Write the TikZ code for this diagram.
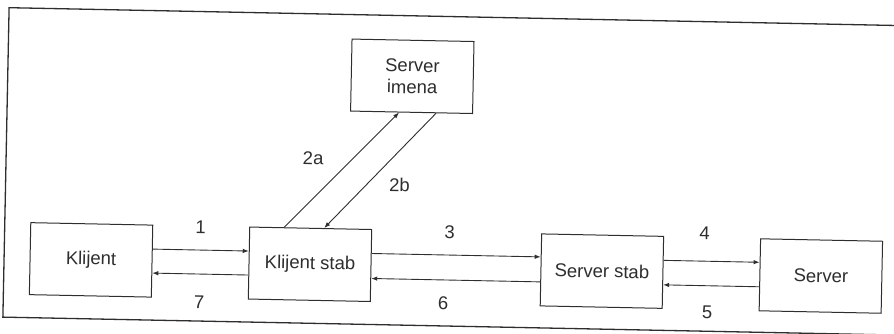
\documentclass[tikz,border=0pt]{standalone}
\usepackage{fontspec}
\setmainfont{Liberation Sans}
\usetikzlibrary{arrows.meta}

\definecolor{ink}{HTML}{2E2E2E}

\tikzset{
  block/.style={draw=ink, line width=1pt, minimum width=122pt, minimum height=72pt,
    inner sep=0pt, align=center, font=\fontsize{18.5}{21.6}\selectfont, text=ink},
  flow/.style={draw=ink, line width=0.9pt, -{Latex[length=6pt,width=4.5pt]}},
  num/.style={font=\fontsize{18.5}{21.6}\selectfont, text=ink, inner sep=0pt},
  frame/.style={draw=ink, line width=1.3pt}
}

\begin{document}
\begin{tikzpicture}[x=1pt, y=-1pt]
  \useasboundingbox (0,0) rectangle (894,333);
  \clip (0,0) rectangle (894,333);

  \begin{scope}[rotate around={-1.15:(447,166)}, transform shape]
    % outer frame
    \draw[frame] (6,16.5) rectangle (905,326);

    % blocks
    \node[block] (kl)  at (93,267)    {Klijent};
    \node[block] (ks)  at (312,267)   {Klijent stab};
    \node[block] (ss)  at (604,268)   {Server stab};
    \node[block] (sv)  at (823,268.5) {Server};
    \node[block] (si)  at (410.5,77)  {Server\\imena};

    % horizontal request (upper) / reply (lower) pairs
    \draw[flow] ([yshift=12pt]kl.east)  -- ([yshift=12pt]kl.east -| ks.west);
    \draw[flow] ([yshift=-12pt]ks.west) -- ([yshift=-12pt]ks.west -| kl.east);
    \draw[flow] ([yshift=12pt]ks.east)  -- ([yshift=12pt]ks.east -| ss.west);
    \draw[flow] ([yshift=-12pt]ss.west) -- ([yshift=-12pt]ss.west -| ks.east);
    \draw[flow] ([yshift=12pt]ss.east)  -- ([yshift=12pt]ss.east -| sv.west);
    \draw[flow] ([yshift=-12pt]sv.west) -- ([yshift=-12pt]sv.west -| ss.east);

    % name server lookup
    \draw[flow] ([xshift=35pt]ks.north west) -- ([xshift=49pt]si.south west);
    \draw[flow] ([xshift=86pt]si.south west) -- ([xshift=75pt]ks.north west);

    % step numbers
    \node[num] (n1)  at (202,232) {1};
    \node[num] (n7)  at (202,307) {7};
    \node[num] (n2a) at (313,161) {2a};
    \node[num] (n2b) at (400,186) {2b};
    \node[num] (n3)  at (451,232) {3};
    \node[num] (n6)  at (446,303) {6};
    \node[num] (n4)  at (706,228) {4};
    \node[num] (n5)  at (710,307) {5};
  \end{scope}
\end{tikzpicture}
\end{document}
